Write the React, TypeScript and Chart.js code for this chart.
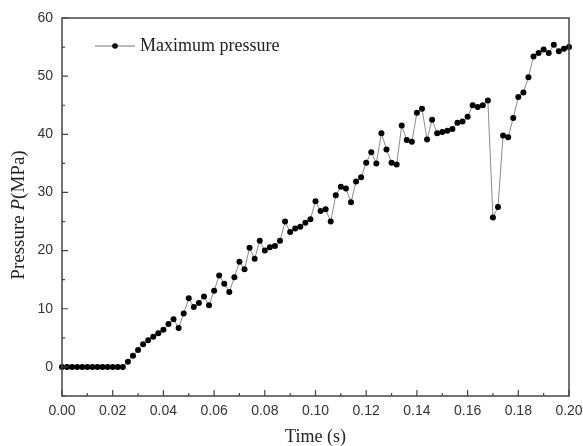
import React, { useEffect, useRef } from "react";
import { Chart, registerables } from "chart.js";

Chart.register(...registerables);

const timeValues: number[] = [
  0.0, 0.002, 0.004, 0.006, 0.008, 0.01, 0.012, 0.014, 0.016, 0.018,
  0.02, 0.022, 0.024, 0.026, 0.028, 0.03, 0.032, 0.034, 0.036, 0.038,
  0.04, 0.042, 0.044, 0.046, 0.048, 0.05, 0.052, 0.054, 0.056, 0.058,
  0.06, 0.062, 0.064, 0.066, 0.068, 0.07, 0.072, 0.074, 0.076, 0.078,
  0.08, 0.082, 0.084, 0.086, 0.088, 0.09, 0.092, 0.094, 0.096, 0.098,
  0.1, 0.102, 0.104, 0.106, 0.108, 0.11, 0.112, 0.114, 0.116, 0.118,
  0.12, 0.122, 0.124, 0.126, 0.128, 0.13, 0.132, 0.134, 0.136, 0.138,
  0.14, 0.142, 0.144, 0.146, 0.148, 0.15, 0.152, 0.154, 0.156, 0.158,
  0.16, 0.162, 0.164, 0.166, 0.168, 0.17, 0.172, 0.174, 0.176, 0.178,
  0.18, 0.182, 0.184, 0.186, 0.188, 0.19, 0.192, 0.194, 0.196, 0.198,
  0.2,
];

const maxPressure: number[] = [
  0, 0, 0, 0, 0, 0, 0, 0, 0, 0,
  0, 0, 0, 0.9, 1.9, 2.9, 3.9, 4.6, 5.2, 5.8,
  6.4, 7.4, 8.2, 6.7, 9.2, 11.8, 10.3, 11.0, 12.1, 10.6,
  13.1, 15.7, 14.3, 12.9, 15.4, 18.1, 16.8, 20.5, 18.6, 21.7,
  20.0, 20.6, 20.8, 21.7, 25.0, 23.2, 23.8, 24.1, 24.8, 25.4,
  28.5, 26.8, 27.1, 25.0, 29.5, 31.0, 30.7, 28.3, 31.9, 32.6,
  35.1, 36.9, 35.0, 40.2, 37.4, 35.1, 34.8, 41.5, 39.0, 38.7,
  43.7, 44.4, 39.1, 42.5, 40.2, 40.4, 40.6, 40.9, 42.0, 42.2,
  43.0, 45.0, 44.7, 45.0, 45.8, 25.7, 27.5, 39.8, 39.5, 42.8,
  46.4, 47.2, 49.8, 53.4, 54.0, 54.6, 54.0, 55.4, 54.3, 54.7,
  55.0,
];

const xMajorTicks: number[] = [0, 0.02, 0.04, 0.06, 0.08, 0.1, 0.12, 0.14, 0.16, 0.18, 0.2];
const xMinorTicks: number[] = [0.01, 0.03, 0.05, 0.07, 0.09, 0.11, 0.13, 0.15, 0.17, 0.19];
const yMajorTicks: number[] = [0, 10, 20, 30, 40, 50, 60];
const yMinorTicks: number[] = [-5, 5, 15, 25, 35, 45, 55];

const seriesLabel = "Maximum pressure";
const xTitle = "Time (s)";
const yTitleParts: { text: string; italic: boolean }[] = [
  { text: "Pressure ", italic: false },
  { text: "P", italic: true },
  { text: "(MPa)", italic: false },
];

const SERIF = "'Liberation Serif', 'Times New Roman', serif";
const SANS = "'Liberation Sans', Arial, sans-serif";

const decorPlugin = {
  id: "decor",
  afterDraw(chart: any) {
    const { ctx, chartArea } = chart;
    const xs = chart.scales.x;
    const ys = chart.scales.y;
    const { left, right, top, bottom } = chartArea;
    ctx.save();
    // frame
    ctx.strokeStyle = "#444";
    ctx.lineWidth = 1.5;
    ctx.strokeRect(left, top, right - left, bottom - top);
    // inward ticks
    ctx.lineWidth = 1.2;
    ctx.beginPath();
    xMajorTicks.forEach((v) => {
      const px = xs.getPixelForValue(v);
      ctx.moveTo(px, bottom);
      ctx.lineTo(px, bottom - 6);
    });
    xMinorTicks.forEach((v) => {
      const px = xs.getPixelForValue(v);
      ctx.moveTo(px, bottom);
      ctx.lineTo(px, bottom - 3);
    });
    yMajorTicks.forEach((v) => {
      const py = ys.getPixelForValue(v);
      ctx.moveTo(left, py);
      ctx.lineTo(left + 6, py);
    });
    yMinorTicks.forEach((v) => {
      const py = ys.getPixelForValue(v);
      ctx.moveTo(left, py);
      ctx.lineTo(left + 3, py);
    });
    ctx.stroke();

    // x title
    ctx.fillStyle = "#222";
    ctx.font = `18px ${SERIF}`;
    ctx.textAlign = "center";
    ctx.textBaseline = "middle";
    ctx.fillText(xTitle, (left + right) / 2, 437);

    // y title (rotated, mixed italic)
    ctx.save();
    ctx.translate(19, 215);
    ctx.rotate(-Math.PI / 2);
    ctx.textAlign = "left";
    let total = 0;
    const widths = yTitleParts.map((p) => {
      ctx.font = `${p.italic ? "italic " : ""}19px ${SERIF}`;
      const w = ctx.measureText(p.text).width;
      total += w;
      return w;
    });
    let cx = -total / 2;
    yTitleParts.forEach((p, i) => {
      ctx.font = `${p.italic ? "italic " : ""}19px ${SERIF}`;
      ctx.fillText(p.text, cx, 0);
      cx += widths[i];
    });
    ctx.restore();

    // legend
    const ly = 46;
    ctx.strokeStyle = "#777";
    ctx.lineWidth = 1;
    ctx.beginPath();
    ctx.moveTo(95, ly);
    ctx.lineTo(135, ly);
    ctx.stroke();
    ctx.fillStyle = "#000";
    ctx.beginPath();
    ctx.arc(115, ly, 2.8, 0, Math.PI * 2);
    ctx.fill();
    ctx.fillStyle = "#222";
    ctx.font = `18px ${SERIF}`;
    ctx.textAlign = "left";
    ctx.textBaseline = "middle";
    ctx.fillText(seriesLabel, 140, ly);
    ctx.restore();
  },
};

export default function App() {
  const canvasRef = useRef<HTMLCanvasElement | null>(null);

  useEffect(() => {
    document.body.style.margin = "0";
    const canvas = canvasRef.current;
    if (!canvas) return;
    const chart = new Chart(canvas, {
      type: "line",
      data: {
        datasets: [
          {
            label: seriesLabel,
            data: timeValues.map((t, i) => ({ x: t, y: maxPressure[i] })),
            borderColor: "#8a8a8a",
            borderWidth: 1,
            pointRadius: 3,
            pointBackgroundColor: "#000",
            pointBorderColor: "#000",
            pointBorderWidth: 0,
            clip: false as any,
            tension: 0,
          },
        ],
      },
      options: {
        animation: false,
        responsive: false,
        maintainAspectRatio: false,
        layout: { padding: { top: 18, right: 14, left: 0, bottom: 0 } },
        plugins: {
          legend: { display: false },
          tooltip: { enabled: false },
        },
        scales: {
          x: {
            type: "linear",
            min: 0,
            max: 0.2,
            afterBuildTicks: (scale: any) => {
              scale.ticks = xMajorTicks.map((v) => ({ value: v }));
            },
            afterFit: (scale: any) => {
              scale.height = 50;
              scale.paddingLeft = 0;
              scale.paddingRight = 0;
            },
            ticks: {
              callback: (v: any) => Number(v).toFixed(2),
              color: "#333",
              font: { family: SANS, size: 14 },
              padding: 7,
              maxRotation: 0,
              autoSkip: false,
            },
            grid: { display: false, drawTicks: false },
            border: { display: false },
          },
          y: {
            type: "linear",
            min: -5,
            max: 60,
            afterBuildTicks: (scale: any) => {
              scale.ticks = yMajorTicks.map((v) => ({ value: v }));
            },
            afterFit: (scale: any) => {
              scale.width = 62;
              scale.paddingTop = 0;
              scale.paddingBottom = 0;
            },
            ticks: {
              color: "#333",
              font: { family: SANS, size: 14 },
              padding: 9,
            },
            grid: { display: false, drawTicks: false },
            border: { display: false },
          },
        },
      },
      plugins: [decorPlugin],
    });
    return () => chart.destroy();
  }, []);

  return (
    <div style={{ width: 583, height: 446 }}>
      <canvas ref={canvasRef} width={583} height={446} style={{ display: "block" }} />
    </div>
  );
}
